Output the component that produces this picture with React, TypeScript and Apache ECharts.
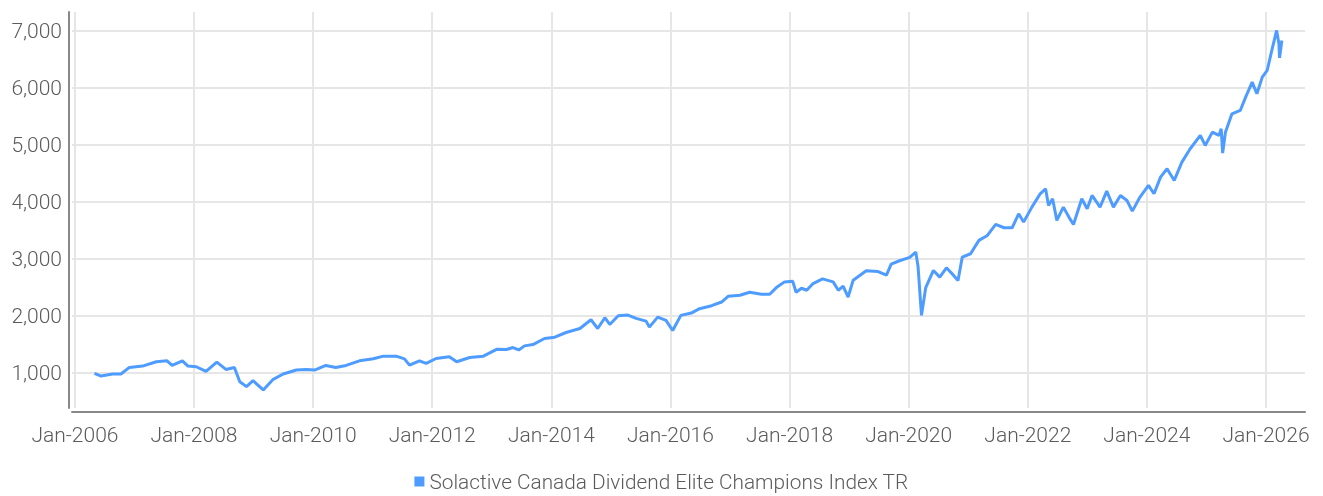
import React, { useEffect, useRef } from "react";
import * as echarts from "echarts";

const seriesName = "Solactive Canada Dividend Elite Champions Index TR";

const dates: string[] = [
  "2006-05-01", "2006-06-10", "2006-08-20", "2006-10-10", "2006-12-01", "2007-02-20", "2007-05-15", "2007-07-20",
  "2007-08-20", "2007-10-22", "2007-11-25", "2008-01-15", "2008-03-15", "2008-05-20", "2008-07-15", "2008-09-05",
  "2008-10-08", "2008-11-18", "2008-12-28", "2009-03-01", "2009-05-01", "2009-07-01", "2009-09-20", "2009-11-20",
  "2010-01-10", "2010-03-20", "2010-05-20", "2010-07-22", "2010-10-12", "2011-01-05", "2011-03-08", "2011-05-25",
  "2011-07-15", "2011-08-15", "2011-10-15", "2011-11-25", "2012-01-25", "2012-04-15", "2012-05-30", "2012-08-18",
  "2012-11-10", "2013-01-30", "2013-04-01", "2013-05-10", "2013-06-15", "2013-07-20", "2013-09-10", "2013-11-20",
  "2014-01-22", "2014-04-01", "2014-06-25", "2014-09-01", "2014-10-12", "2014-11-25", "2014-12-25", "2015-02-15",
  "2015-04-15", "2015-06-05", "2015-08-05", "2015-08-25", "2015-10-15", "2015-12-05", "2016-01-15", "2016-03-05",
  "2016-05-08", "2016-06-28", "2016-09-10", "2016-11-10", "2016-12-20", "2017-03-03", "2017-05-01", "2017-07-12",
  "2017-09-01", "2017-10-12", "2017-12-01", "2018-01-20", "2018-02-10", "2018-03-15", "2018-04-16", "2018-05-25",
  "2018-07-22", "2018-09-25", "2018-10-27", "2018-11-25", "2018-12-26", "2019-01-26", "2019-03-07", "2019-04-16",
  "2019-06-28", "2019-08-18", "2019-09-16", "2019-11-06", "2020-01-08", "2020-02-14", "2020-02-28", "2020-03-20",
  "2020-04-15", "2020-06-01", "2020-07-10", "2020-08-20", "2020-10-03", "2020-10-30", "2020-11-25", "2021-01-15",
  "2021-03-07", "2021-04-28", "2021-06-18", "2021-08-08", "2021-09-27", "2021-11-06", "2021-12-06", "2022-01-26",
  "2022-03-18", "2022-04-20", "2022-05-08", "2022-06-02", "2022-06-28", "2022-08-07", "2022-09-10", "2022-10-08",
  "2022-11-28", "2022-12-31", "2023-01-30", "2023-03-20", "2023-04-30", "2023-06-10", "2023-07-23", "2023-09-01",
  "2023-10-04", "2023-11-20", "2024-01-11", "2024-02-14", "2024-03-25", "2024-05-04", "2024-06-17", "2024-08-03",
  "2024-09-23", "2024-11-24", "2024-12-24", "2025-02-06", "2025-03-18", "2025-04-01", "2025-04-10", "2025-04-27",
  "2025-06-06", "2025-07-27", "2025-08-29", "2025-10-08", "2025-11-06", "2025-12-09", "2026-01-08", "2026-02-03",
  "2026-03-07", "2026-03-21", "2026-03-25", "2026-04-08",
];

const values: number[] = [
  990, 942, 977, 977, 1093, 1116, 1192, 1209,
  1128, 1209, 1116, 1105, 1023, 1186, 1058, 1093,
  843, 756, 860, 698, 884, 977, 1047, 1058,
  1047, 1128, 1093, 1128, 1209, 1244, 1291, 1291,
  1244, 1134, 1209, 1163, 1250, 1279, 1192, 1267,
  1291, 1410, 1407, 1442, 1400, 1471, 1494, 1600,
  1624, 1706, 1776, 1929, 1776, 1965, 1847, 2000,
  2012, 1953, 1906, 1800, 1976, 1918, 1741, 2006,
  2047, 2124, 2176, 2241, 2341, 2359, 2412, 2376,
  2376, 2494, 2594, 2606, 2412, 2482, 2447, 2565,
  2647, 2594, 2447, 2518, 2329, 2624, 2706, 2788,
  2776, 2712, 2906, 2965, 3024, 3118, 2859, 2006,
  2494, 2795, 2678, 2842, 2708, 2620, 3029, 3088,
  3322, 3409, 3602, 3544, 3544, 3789, 3643, 3906,
  4140, 4228, 3936, 4053, 3673, 3906, 3731, 3602,
  4053, 3877, 4111, 3906, 4187, 3906, 4111, 4023,
  3836, 4082, 4287, 4140, 4433, 4579, 4374, 4696,
  4930, 5164, 4988, 5222, 5164, 5281, 4854, 5222,
  5544, 5602, 5836, 6099, 5895, 6187, 6304, 6626,
  7006, 6772, 6526, 6830,
];

const yTicks: number[] = [1000, 2000, 3000, 4000, 5000, 6000, 7000];
const xTickYears: number[] = [2006, 2008, 2010, 2012, 2014, 2016, 2018, 2020, 2022, 2024, 2026];

const FONT = "Roboto";
const TEXT_COLOR = "#5b5b5b";

export default function App() {
  const ref = useRef<HTMLDivElement>(null);

  useEffect(() => {
    if (!ref.current) return;
    const chart = echarts.init(ref.current, undefined, { renderer: "svg" });
    const xTicks = xTickYears.map((y) => Date.UTC(y, 0, 1));
    const data = dates.map((d, i) => [Date.parse(d + "T00:00:00Z"), values[i]]);
    chart.setOption({
      animation: false,
      textStyle: { fontFamily: FONT },
      grid: { left: 72, right: 18, top: 12, bottom: 88, containLabel: false },
      legend: {
        show: true,
        top: 466,
        left: "center",
        icon: "rect",
        itemWidth: 10,
        itemHeight: 10,
        itemGap: 10,
        textStyle: { fontFamily: FONT, fontWeight: 300, fontSize: 20.8, color: TEXT_COLOR },
        data: [seriesName],
      },
      xAxis: {
        type: "value",
        min: Date.UTC(2005, 11, 14),
        max: Date.UTC(2026, 7, 28),
        offset: 4,
        axisLine: { show: true, onZero: false, lineStyle: { color: "#888888", width: 2 } },
        axisTick: { show: false, customValues: xTicks },
        axisLabel: {
          customValues: xTicks,
          margin: 12,
          fontFamily: FONT,
          fontWeight: 300,
          fontSize: 21,
          color: TEXT_COLOR,
          hideOverlap: false,
          formatter: (v: number) => "Jan-" + new Date(v).getUTCFullYear(),
        },
        splitLine: { show: true, lineStyle: { color: "#e6e6e6", width: 2 } },
      },
      yAxis: {
        type: "value",
        min: 381,
        max: 7330,
        offset: 3,
        axisLine: { show: true, onZero: false, lineStyle: { color: "#888888", width: 2 } },
        axisTick: { show: false, customValues: yTicks },
        axisLabel: {
          customValues: yTicks,
          margin: 7,
          fontFamily: FONT,
          fontWeight: 300,
          fontSize: 21,
          color: TEXT_COLOR,
          formatter: (v: number) => v.toLocaleString("en-US"),
        },
        splitLine: { show: true, lineStyle: { color: "#e6e6e6", width: 2 } },
      },
      series: [
        {
          name: seriesName,
          type: "line",
          data,
          showSymbol: false,
          symbol: "none",
          lineStyle: { color: "#4e9cff", width: 3 },
          itemStyle: { color: "#4e9cff" },
        },
      ],
    });
    return () => chart.dispose();
  }, []);

  return (
    <div
      ref={ref}
      style={{ position: "fixed", left: 0, top: 0, width: 1323, height: 496 }}
    />
  );
}
